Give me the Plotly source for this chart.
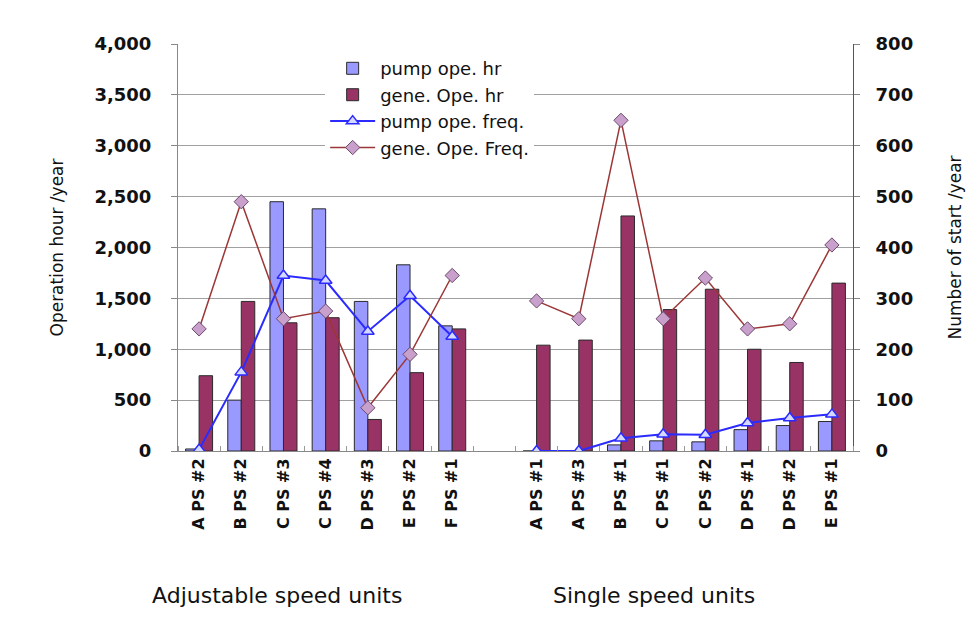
import plotly.graph_objects as go

# Units, split into the two groups shown along the category axis
adjustable_units = ["A PS #2", "B PS #2", "C PS #3", "C PS #4", "D PS #3", "E PS #2", "F PS #1"]
single_units = ["A PS #1", "A PS #3", "B PS #1", "C PS #1", "C PS #2", "D PS #1", "D PS #2", "E PS #1"]

# Operation hours per year (left axis)
pump_hr_adj = [20, 500, 2450, 2380, 1470, 1830, 1230]
pump_hr_single = [0, 0, 60, 100, 90, 210, 250, 290]
gene_hr_adj = [740, 1470, 1260, 1310, 310, 770, 1200]
gene_hr_single = [1040, 1090, 2310, 1390, 1590, 1000, 870, 1650]

# Number of starts per year (right axis)
pump_freq_adj = [3, 155, 345, 335, 235, 305, 225]
pump_freq_single = [0, 0, 25, 33, 32, 55, 65, 72]
gene_freq_adj = [240, 490, 260, 275, 85, 190, 345]
gene_freq_single = [295, 260, 650, 260, 340, 240, 250, 405]

left_ticks = [0, 500, 1000, 1500, 2000, 2500, 3000, 3500, 4000]
right_ticks = [0, 100, 200, 300, 400, 500, 600, 700, 800]

# One empty slot separates the two groups
labels = adjustable_units + [""] + single_units
xpos = list(range(len(labels)))
tick_pos = [i for i, lab in enumerate(labels) if lab]
tick_txt = [lab for lab in labels if lab]
between = [i - 0.5 for i in range(len(labels) + 1)]


def joined(a, b):
    return a + [None] + b


fig = go.Figure()
bar_line = dict(color="#2a2a2a", width=1)
fig.add_trace(go.Bar(x=xpos, y=joined(pump_hr_adj, pump_hr_single), name="pump ope. hr",
                     marker=dict(color="#9999FF", line=bar_line)))
fig.add_trace(go.Bar(x=xpos, y=joined(gene_hr_adj, gene_hr_single), name="gene. Ope. hr",
                     marker=dict(color="#993366", line=bar_line)))
fig.add_trace(go.Scatter(x=xpos, y=joined(pump_freq_adj, pump_freq_single), name="pump ope. freq.",
                         yaxis="y2", mode="lines+markers", connectgaps=False,
                         line=dict(color="#2b2bff", width=2),
                         marker=dict(symbol="triangle-up", size=11, color="#d6d9ff",
                                     line=dict(color="#2b2bff", width=1.5))))
fig.add_trace(go.Scatter(x=xpos, y=joined(gene_freq_adj, gene_freq_single), name="gene. Ope. Freq.",
                         yaxis="y2", mode="lines+markers", connectgaps=False,
                         line=dict(color="#9c3636", width=1.5),
                         marker=dict(symbol="diamond", size=11, color="#c9a0cc",
                                     line=dict(color="#6b4a6b", width=1))))

tick_font = dict(family="DejaVu Sans", size=18, color="#111111", weight="bold")
title_font = dict(family="DejaVu Sans", size=17, color="#111111")

fig.update_layout(
    width=974, height=627,
    margin=dict(l=178, r=121, t=44, b=176),
    paper_bgcolor="white", plot_bgcolor="white",
    barmode="group", bargap=0.36, bargroupgap=0,
    showlegend=True,
    legend=dict(x=0.218, y=0.985, xanchor="left", yanchor="top",
                bgcolor="white", borderwidth=0, itemwidth=45,
                font=dict(family="DejaVu Sans", size=18, color="#111111"),
                tracegroupgap=0),
    xaxis=dict(range=[-0.5, len(labels) - 0.5], tickmode="array", tickvals=tick_pos,
               ticktext=tick_txt, tickangle=-90,
               tickfont=dict(family="DejaVu Sans", size=16, color="#111111", weight="bold"),
               ticks="", showgrid=False, zeroline=False,
               showline=True, linecolor="#888888", linewidth=1,
               minor=dict(tickmode="array", tickvals=between, ticks="inside", ticklen=5,
                          tickcolor="#999999", showgrid=False)),
    yaxis=dict(range=[0, 4000], tickmode="array", tickvals=left_ticks,
               ticktext=[f"{v:,}" for v in left_ticks], tickfont=tick_font,
               ticklabelstandoff=16,
               showgrid=True, gridcolor="#a0a0a0", gridwidth=1, zeroline=False,
               showline=True, linecolor="#888888", linewidth=1,
               ticks="outside", ticklen=6, tickcolor="#888888",
               title=dict(text="Operation hour /year", font=title_font, standoff=26)),
    yaxis2=dict(range=[0, 800], tickmode="array", tickvals=right_ticks, tickfont=tick_font,
                ticklabelstandoff=12,
                overlaying="y", side="right", showgrid=False, zeroline=False,
                showline=True, linecolor="#555555", linewidth=1,
                ticks="outside", ticklen=6, tickcolor="#888888",
                title=dict(text="Number of start /year", font=title_font, standoff=36)),
    annotations=[
        dict(text="Adjustable speed units", x=0.147, y=-0.355, xref="paper", yref="paper",
             showarrow=False, xanchor="center", yanchor="middle",
             font=dict(family="DejaVu Sans", size=22, color="#111111")),
        dict(text="Single speed units", x=0.705, y=-0.355, xref="paper", yref="paper",
             showarrow=False, xanchor="center", yanchor="middle",
             font=dict(family="DejaVu Sans", size=22, color="#111111")),
    ],
)

fig.write_html("out.html")
